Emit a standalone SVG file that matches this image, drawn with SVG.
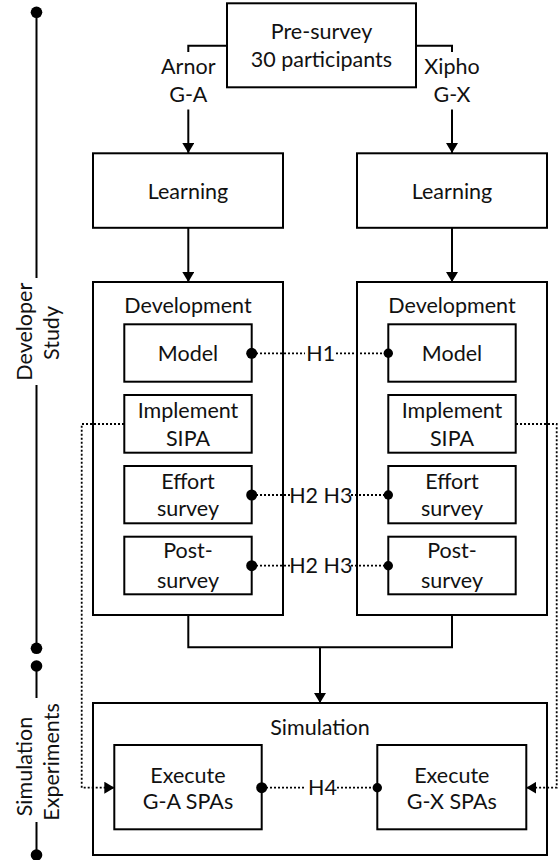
<svg xmlns="http://www.w3.org/2000/svg" width="558" height="860" viewBox="0 0 558 860">
<style>
.box{fill:#fff;stroke:#000;stroke-width:2}
.ln{fill:none;stroke:#000;stroke-width:2}
.dt{fill:none;stroke:#000;stroke-width:1.8;stroke-dasharray:2 2}
.t{font-family:Lato,"Liberation Sans",sans-serif;font-size:21.5px;fill:#111;text-anchor:middle}
.dot{fill:#000}
</style>
<defs>
<marker id="ar" viewBox="0 0 10 12" refX="10" refY="6" markerWidth="10" markerHeight="12" markerUnits="userSpaceOnUse" orient="auto">
<path d="M0,0 L10,6 L0,12 z" fill="#000"/>
</marker>
</defs>
<rect width="558" height="860" fill="#fff"/>

<g id="timeline">
<path class="ln" d="M36.5,12 V278 M36.5,385 V648 M36.5,666 V698 M36.5,822 V855"/>
<circle class="dot" cx="36.5" cy="12.3" r="5.8"/>
<circle class="dot" cx="36.5" cy="648.3" r="5.8"/>
<circle class="dot" cx="36.5" cy="666" r="5.8"/>
<circle class="dot" cx="36.5" cy="855" r="5.8"/>
<text class="t" transform="translate(32.3,331.7) rotate(-90)">Developer</text>
<text class="t" transform="translate(59,333) rotate(-90)">Study</text>
<text class="t" transform="translate(32.3,766.5) rotate(-90)">Simulation</text>
<text class="t" transform="translate(59,762) rotate(-90)">Experiments</text>
</g>

<g id="pre-survey">
<rect class="box" x="227" y="3.3" width="189" height="84"/>
<text class="t" x="321.5" y="39.3">Pre-survey</text>
<text class="t" x="321.5" y="66.7">30 participants</text>
</g>
<g id="label-arnor">
<text class="t" x="188.3" y="74">Arnor</text>
<text class="t" x="188.3" y="101.7">G-A</text>
</g>
<g id="label-xipho">
<text class="t" x="452" y="74">Xipho</text>
<text class="t" x="452" y="101.7">G-X</text>
</g>

<g id="learning-a">
<rect class="box" x="93" y="153.3" width="190" height="74.5"/>
<text class="t" x="188" y="199">Learning</text>
</g>
<g id="learning-x">
<rect class="box" x="357" y="153.3" width="190" height="74.5"/>
<text class="t" x="452" y="199">Learning</text>
</g>

<g id="development-a">
<rect class="box" x="93" y="282" width="190" height="333"/>
<text class="t" x="188" y="313">Development</text>
</g>
<g id="development-x">
<rect class="box" x="357" y="282" width="190" height="333"/>
<text class="t" x="452" y="313">Development</text>
</g>

<g id="model-a"><rect class="box" x="124.3" y="324.3" width="127.4" height="57.4"/><text class="t" x="188" y="361">Model</text></g>
<g id="implement-a"><rect class="box" x="124.3" y="395" width="127.4" height="57.7"/><text class="t" x="188" y="417.7">Implement</text><text class="t" x="188" y="445.7">SIPA</text></g>
<g id="effort-a"><rect class="box" x="124.3" y="466" width="127.4" height="57.3"/><text class="t" x="188" y="489">Effort</text><text class="t" x="188" y="515.5">survey</text></g>
<g id="post-a"><rect class="box" x="124.3" y="536.7" width="127.4" height="57.6"/><text class="t" x="188" y="558">Post-</text><text class="t" x="188" y="587.5">survey</text></g>

<g id="model-x"><rect class="box" x="388.3" y="324.3" width="127.4" height="57.4"/><text class="t" x="452" y="361">Model</text></g>
<g id="implement-x"><rect class="box" x="388.3" y="395" width="127.4" height="57.7"/><text class="t" x="452" y="417.7">Implement</text><text class="t" x="452" y="445.7">SIPA</text></g>
<g id="effort-x"><rect class="box" x="388.3" y="466" width="127.4" height="57.3"/><text class="t" x="452" y="489">Effort</text><text class="t" x="452" y="515.5">survey</text></g>
<g id="post-x"><rect class="box" x="388.3" y="536.7" width="127.4" height="57.6"/><text class="t" x="452" y="558">Post-</text><text class="t" x="452" y="587.5">survey</text></g>

<g id="simulation">
<rect class="box" x="93" y="703" width="454" height="152"/>
<text class="t" x="320" y="735">Simulation</text>
</g>
<g id="execute-a"><rect class="box" x="114.3" y="745" width="147.4" height="84.3"/><text class="t" x="188" y="782.7">Execute</text><text class="t" x="188" y="809.3">G-A SPAs</text></g>
<g id="execute-x"><rect class="box" x="377.3" y="745" width="149" height="84.3"/><text class="t" x="451.8" y="782.7">Execute</text><text class="t" x="451.8" y="809.3">G-X SPAs</text></g>

<g id="connectors">
<path class="ln" d="M227,45.7 H188.3 V52"/>
<path class="ln" d="M188.3,109.5 V153" marker-end="url(#ar)"/>
<path class="ln" d="M416,45.7 H452 V52"/>
<path class="ln" d="M452,109.5 V153" marker-end="url(#ar)"/>
<path class="ln" d="M188.3,228 V282" marker-end="url(#ar)"/>
<path class="ln" d="M452,228 V282" marker-end="url(#ar)"/>
<path class="ln" d="M188.3,615 V647.3 H452 V615"/>
<path class="ln" d="M320,647.3 V703" marker-end="url(#ar)"/>
<path class="dt" d="M124,424 H81.7 V787.7 H114.3" marker-end="url(#ar)"/>
<path class="dt" d="M516,424 H556.7 V787.7 H526.3" marker-end="url(#ar)"/>
<path class="dt" d="M252,353.3 H305 M336,353.3 H388.3"/>
<circle class="dot" cx="251.7" cy="353.3" r="5.5"/><circle class="dot" cx="388.3" cy="353.3" r="4.7"/>
<text class="t" x="320.8" y="360.7">H1</text>
<path class="dt" d="M252,495 H290 M351,495 H388.3"/>
<circle class="dot" cx="251.7" cy="495" r="5.5"/><circle class="dot" cx="388.3" cy="495" r="4.7"/>
<text class="t" x="320.8" y="502.5">H2 H3</text>
<path class="dt" d="M252,565.7 H290 M351,565.7 H388.3"/>
<circle class="dot" cx="251.7" cy="565.7" r="5.5"/><circle class="dot" cx="388.3" cy="565.7" r="4.7"/>
<text class="t" x="320.8" y="573">H2 H3</text>
<path class="dt" d="M262,787.7 H304 M337,787.7 H377.3"/>
<circle class="dot" cx="261.7" cy="787.7" r="5.5"/><circle class="dot" cx="377.3" cy="787.7" r="4.7"/>
<text class="t" x="322.5" y="795.4">H4</text>
</g>
</svg>
